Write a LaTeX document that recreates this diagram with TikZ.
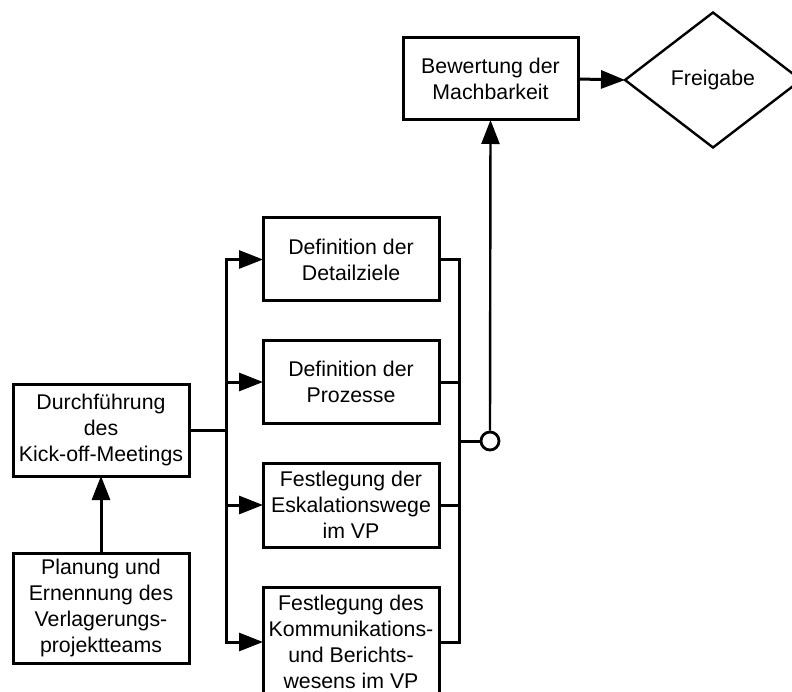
\documentclass[tikz,border=0pt]{standalone}
\usepackage{fontspec}
\setmainfont{Liberation Sans}
\usetikzlibrary{arrows.meta,shapes.geometric}
\begin{document}
\begin{tikzpicture}[x=1pt,y=-1pt,
  every node/.style={font=\fontsize{21.3}{25.8}\selectfont},
  box/.style={draw,line width=3pt,align=center,inner sep=0pt,outer sep=0pt,
    minimum width=176pt},
  decision/.style={draw,diamond,line width=2.4pt,inner sep=0pt,outer sep=0pt,
    minimum width=176pt,minimum height=135pt,aspect=1.3},
  link/.style={line width=3pt},
  arr/.style={link,-{Triangle[length=24pt,width=18pt]}},
  dot/.style={circle,draw,fill=white,line width=2.8pt,minimum size=18pt,inner sep=0pt}]
\useasboundingbox (0,0) rectangle (792,692);
\clip (0,0) rectangle (792,692);

% left column
\node[box,minimum height=92pt]  (kick) at (101,430) {Durchführung\\des\\Kick-off-Meetings};
\node[box,minimum height=110pt] (plan) at (101,608) {Planung und\\Ernennung des\\Verlagerungs-\\projektteams};

% parallel work packages
\node[box,minimum height=83pt]  (det)  at (351,259.5) {Definition der\\Detailziele};
\node[box,minimum height=82pt]  (proz) at (351,382) {Definition der\\Prozesse};
\node[box,minimum height=84pt]  (esk)  at (351,505) {Festlegung der\\Eskalationswege\\im VP};
\node[box,minimum height=110pt] (komm) at (351,642) {Festlegung des\\Kommunikations-\\und Berichts-\\wesens im VP};

% top row
\node[box,minimum width=175pt,minimum height=82pt] (bew) at (490.5,79) {Bewertung der\\Machbarkeit};
\node[decision] (frei) at (713,80) {Freigabe};

% branching and joining points
\coordinate (split) at (226,430);
\coordinate (join)  at (459,441);
\node[dot] (sync) at (490,441) {};

% connectors
\draw[arr] (plan.north) -- (kick.south);
\draw[link] (kick.east) -- (split);
\draw[arr] (split) |- (det.west);
\draw[arr] (split) |- (proz.west);
\draw[arr] (split) |- (esk.west);
\draw[arr] (split) |- (komm.west);
\draw[link] (det.east) -| (join);
\draw[link] (proz.east) -| (join);
\draw[link] (esk.east) -| (join);
\draw[link] (komm.east) -| (join);
\draw[link] (join) -- (sync.west);
\draw[arr,line width=2.4pt] (sync.north) -- (bew.south);
\draw[arr] (bew.east) -- (frei.west);
\end{tikzpicture}
\end{document}
